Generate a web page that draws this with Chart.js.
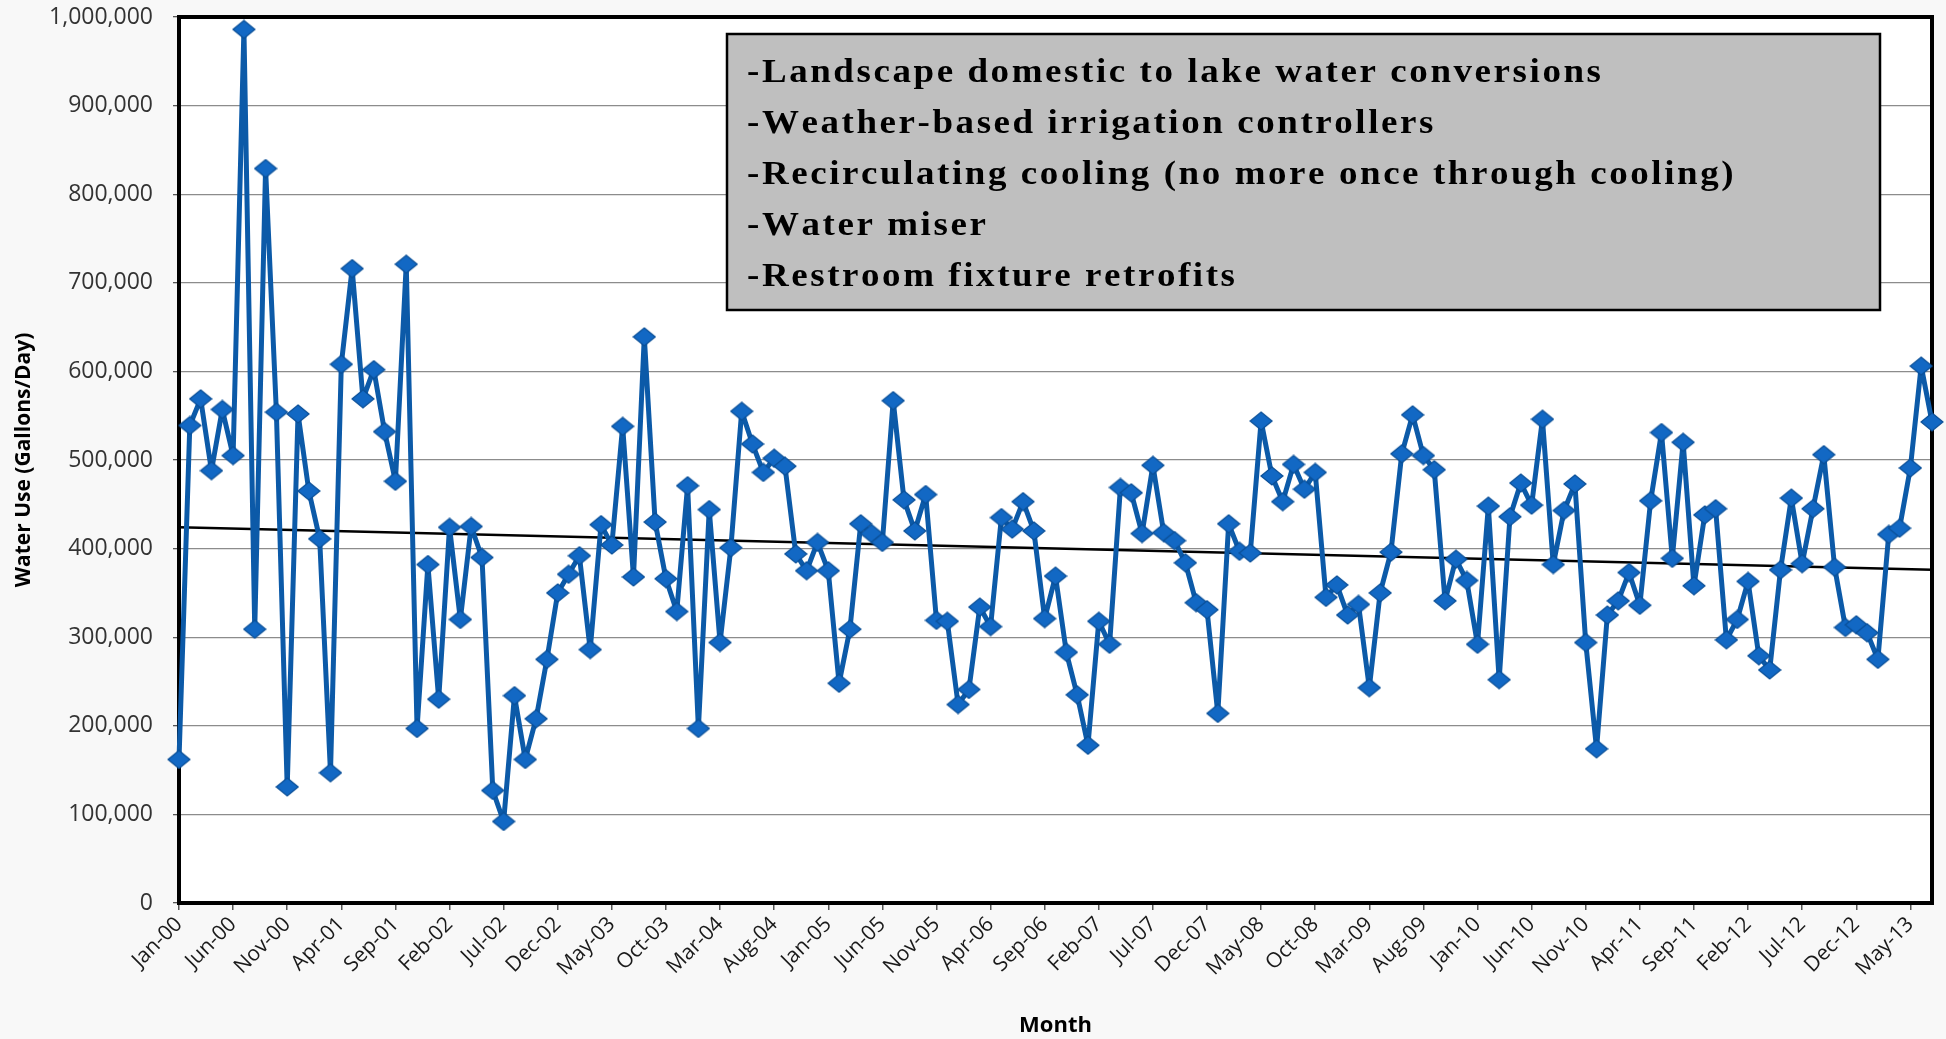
<!DOCTYPE html>
<html>
<head>
<meta charset="utf-8">
<title>Water Use</title>
<script src="https://cdn.jsdelivr.net/npm/chart.js@4.4.1/dist/chart.umd.min.js"></script>
<style>
  html, body { margin: 0; padding: 0; background: #f8f8f8; }
  #wrap { width: 1946px; height: 1039px; }
</style>
</head>
<body>
<div id="wrap"><canvas id="myChart" width="1946" height="1039"></canvas></div>
<script>
// monthly water use, gallons per day, Jan-00 .. Jul-13
const waterUse = [
    162000, 539000, 569000, 488000, 557000, 505000, 986000, 309000, 829000, 554000, 131000, 552000,
    465000, 411000, 147000, 608000, 716000, 569000, 602000, 532000, 476000, 721000, 197000, 382000,
    230000, 424000, 320000, 425000, 390000, 127000, 92000, 234000, 162000, 208000, 275000, 350000,
    371000, 392000, 286000, 427000, 404000, 538000, 368000, 639000, 430000, 366000, 329000, 471000,
    197000, 444000, 294000, 401000, 555000, 518000, 486000, 502000, 493000, 394000, 375000, 407000,
    375000, 248000, 309000, 428000, 417000, 407000, 567000, 455000, 420000, 461000, 319000, 318000,
    224000, 241000, 334000, 312000, 435000, 422000, 453000, 420000, 321000, 369000, 283000, 235000,
    178000, 318000, 292000, 469000, 463000, 417000, 494000, 418000, 409000, 384000, 339000, 331000,
    214000, 428000, 397000, 395000, 544000, 482000, 453000, 495000, 467000, 486000, 345000, 359000,
    325000, 337000, 243000, 350000, 396000, 507000, 551000, 505000, 489000, 341000, 388000, 364000,
    292000, 448000, 252000, 436000, 474000, 449000, 546000, 382000, 443000, 473000, 294000, 174000,
    325000, 341000, 373000, 336000, 454000, 531000, 389000, 520000, 358000, 438000, 445000, 297000,
    320000, 363000, 279000, 263000, 376000, 457000, 383000, 445000, 506000, 379000, 311000, 314000,
    305000, 275000, 416000, 423000, 491000, 606000, 543000
];

// linear trend, value at first and last month
const trendEnds = [424000, 376000];

const monthNames = ['Jan', 'Feb', 'Mar', 'Apr', 'May', 'Jun', 'Jul', 'Aug', 'Sep', 'Oct', 'Nov', 'Dec'];
const startYear = 0; // 2000
const labelEvery = 5;

const yTicks = { min: 0, max: 1000000, step: 100000 };

const notes = [
    '-Landscape domestic to lake water conversions',
    '-Weather-based irrigation controllers',
    '-Recirculating cooling (no more once through cooling)',
    '-Water miser',
    '-Restroom fixture retrofits'
];

var months = new Array();
for (let i = 0; i < waterUse.length; i++) {
    var yy = startYear + Math.floor(i / 12);
    months.push(monthNames[i % 12] + '-' + String(yy).padStart(2, '0'));
}

var trend = months.map(function(m, i) {
    if (i === 0) return trendEnds[0];
    if (i === months.length - 1) return trendEnds[1];
    return null;
});

// diamond marker, a little wider than tall
function makeDiamond(w, h) {
    const c = document.createElement('canvas');
    c.width = w + 2;
    c.height = h + 2;
    const g = c.getContext('2d');
    g.beginPath();
    g.moveTo(c.width / 2, 1);
    g.lineTo(c.width - 1, c.height / 2);
    g.lineTo(c.width / 2, c.height - 1);
    g.lineTo(1, c.height / 2);
    g.closePath();
    g.fillStyle = '#1268c4';
    g.fill();
    g.lineWidth = 1.2;
    g.strokeStyle = '#0a4f97';
    g.stroke();
    return c;
}
const diamond = makeDiamond(22, 18);

// white plot background and heavy black frame round it
const plotFrame = {
    id: 'plotFrame',
    beforeDraw(chart) {
        const a = chart.chartArea;
        const ctx = chart.ctx;
        ctx.save();
        ctx.fillStyle = '#ffffff';
        ctx.fillRect(a.left, a.top, a.right - a.left, a.bottom - a.top);
        ctx.restore();
    },
    beforeDatasetsDraw(chart) {
        const a = chart.chartArea;
        const ctx = chart.ctx;
        ctx.save();
        ctx.strokeStyle = '#000000';
        ctx.lineWidth = 4;
        ctx.strokeRect(a.left, a.top, a.right - a.left, a.bottom - a.top);
        ctx.restore();
    }
};

// grey box listing the conservation measures
const noteBox = {
    id: 'noteBox',
    afterDraw(chart) {
        const ctx = chart.ctx;
        const box = { left: 727, top: 34, right: 1880, bottom: 310 };
        ctx.save();
        ctx.fillStyle = '#bfbfbf';
        ctx.fillRect(box.left, box.top, box.right - box.left, box.bottom - box.top);
        ctx.lineWidth = 2.5;
        ctx.strokeStyle = '#000000';
        ctx.strokeRect(box.left, box.top, box.right - box.left, box.bottom - box.top);

        ctx.font = 'bold 33px "Liberation Serif", "Times New Roman", serif';
        ctx.fillStyle = '#000000';
        ctx.textBaseline = 'alphabetic';
        const stretch = 1.12;
        const firstWidth = 854;
        const natural = ctx.measureText(notes[0]).width;
        const spacing = Math.max(0, (firstWidth / stretch - natural) / (notes[0].length - 1));
        for (let k = 0; k < notes.length; k++) {
            ctx.save();
            ctx.translate(747, 82 + k * 51);
            ctx.scale(stretch, 1);
            let x = 0;
            for (const ch of notes[k]) {
                ctx.fillText(ch, x, 0);
                x += ctx.measureText(ch).width + spacing;
            }
            ctx.restore();
        }
        ctx.restore();
    }
};

const myChart = new Chart(document.getElementById('myChart'), {
    type: 'line',
    data: {
        labels: months,
        datasets: [
            {
                data: waterUse,
                borderColor: '#0c5aa8',
                borderWidth: 5,
                borderJoinStyle: 'round',
                pointStyle: diamond,
                pointRadius: 9,
                pointHoverRadius: 9,
                tension: 0,
                clip: false,
                order: 1,
            },
            {
                data: trend,
                borderColor: '#000000',
                borderWidth: 2.5,
                pointRadius: 0,
                spanGaps: true,
                order: 2,
            },
        ]
    },
    options: {
        responsive: false,
        animation: false,
        layout: {
            padding: { top: 17, right: 11, left: 0, bottom: 0 }
        },
        plugins: {
            legend: { display: false },
            tooltip: { enabled: false },
        },
        scales: {
            x: {
                border: { display: false },
                grid: {
                    drawOnChartArea: false,
                    drawTicks: true,
                    tickLength: 7,
                    lineWidth: 1.5,
                    tickColor: (c) => (c.index % labelEvery === 0 ? '#555555' : 'rgba(0,0,0,0)'),
                },
                ticks: {
                    autoSkip: false,
                    minRotation: 45,
                    maxRotation: 45,
                    padding: 2,
                    color: '#1a1a1a',
                    font: { family: '"Open Sans", sans-serif', size: 21 },
                    callback: function(val, index) {
                        return index % labelEvery === 0 ? this.getLabelForValue(val) : '';
                    }
                },
                title: {
                    display: true,
                    text: 'Month',
                    color: '#000000',
                    font: { family: '"Open Sans", sans-serif', size: 22, weight: 'bold' },
                    padding: { top: 0, bottom: 0 },
                },
                afterFit: (scale) => {
                    scale.height = 136;
                    scale.paddingLeft = 0;
                    scale.paddingRight = 0;
                    scale.paddingTop = 0;
                    scale.paddingBottom = 0;
                }
            },
            y: {
                min: yTicks.min,
                max: yTicks.max,
                border: { display: false },
                grid: {
                    color: '#8c8c8c',
                    lineWidth: 1.3,
                    tickLength: 6,
                    tickColor: '#555555',
                },
                ticks: {
                    stepSize: yTicks.step,
                    padding: 20,
                    color: '#333333',
                    font: { family: '"Open Sans", sans-serif', size: 23 },
                    callback: (v) => v.toLocaleString('en-US'),
                },
                title: {
                    display: true,
                    text: 'Water Use (Gallons/Day)',
                    color: '#000000',
                    font: { family: '"Open Sans", sans-serif', size: 21, weight: 'bold' },
                    padding: { top: 11, bottom: 0 },
                },
                afterFit: (scale) => {
                    scale.width = 179;
                    scale.paddingTop = 0;
                    scale.paddingBottom = 0;
                }
            }
        }
    },
    plugins: [plotFrame, noteBox]
});
</script>
</body>
</html>
